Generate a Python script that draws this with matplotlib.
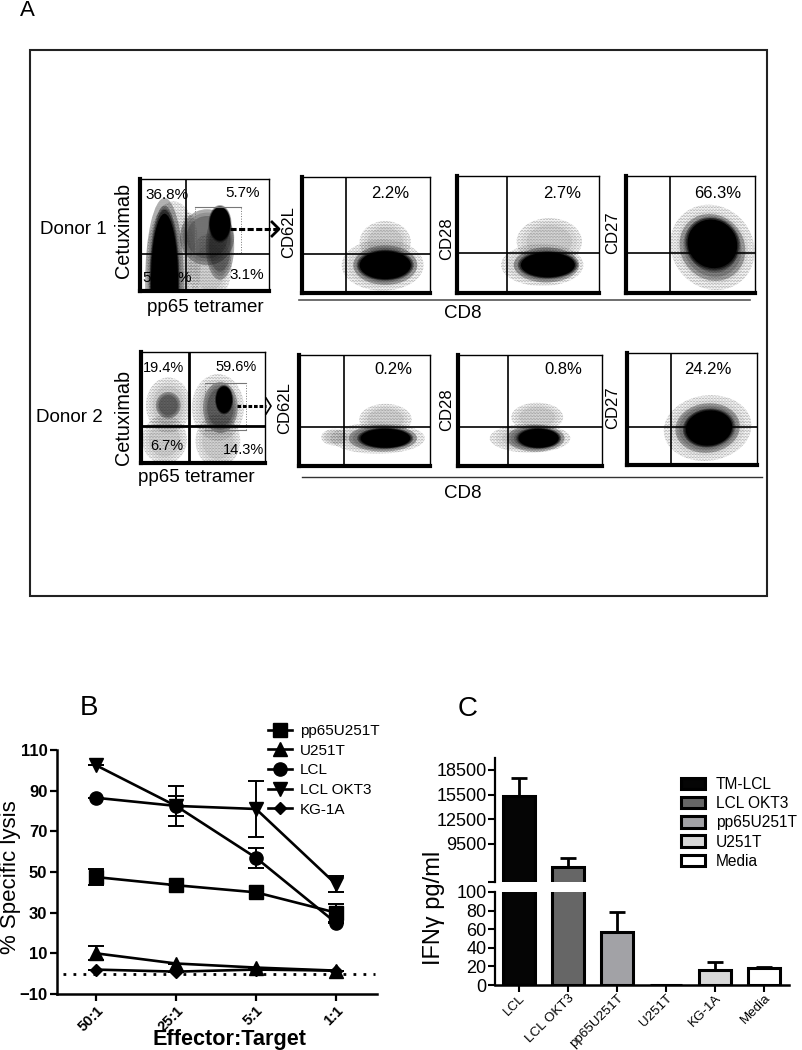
import matplotlib
matplotlib.use('Agg')
from matplotlib import pyplot as plt
from matplotlib.patches import Ellipse, Rectangle
from matplotlib.lines import Line2D
from matplotlib.transforms import ScaledTranslation

plt.rcParams['font.family'] = ['Liberation Sans', 'DejaVu Sans']
plt.rcParams['hatch.linewidth'] = 0.3

W = 802
H = 1050

# ---------------- panel B values ----------------
ratios = ['50:1', '25:1', '5:1', '1:1']
pp65_lysis = [47.5, 43.5, 40, 30]
pp65_err = [4, 0, 0, 4.5]
u251_lysis = [10, 5, 3, 1.5]
u251_err = [3.5, 0, 0, 0]
lcl_lysis = [86.5, 82.5, 57, 25]
lcl_err = [0, 5, 5, 0]
okt3_lysis = [102.5, 82.5, 81, 44]
okt3_err = [0, 10, 14, 4]
kg1a_lysis = [2, 1, 2, 1.5]
kg1a_err = [0, 0, 0, 0]

# ---------------- panel C values ----------------
targets = ['LCL', 'LCL OKT3', 'pp65U251T', 'U251T', 'KG-1A', 'Media']
ifn = [15300, 6700, 57, 0, 16, 18]
ifn_err = [2200, 1100, 21, 0, 9, 1]
ifn_colors = ['#050505', '#666666', '#a2a2a6', '#d0d0d0', '#d8d8d8', '#ffffff']
legend_c_names = ['TM-LCL', 'LCL OKT3', 'pp65U251T', 'U251T', 'Media']
legend_c_colors = ['#050505', '#666666', '#a2a2a6', '#d8d8d8', '#ffffff']

# ---------------- panel A: gates and clouds, in % of each plot ----------------
# clouds: level, x, y, width, height, angle
d1_tet_gate = (36, 33)
d1_tet_clouds = [('sparse', 54, 21, 34, 60, 0), ('sparse', 38, 50, 12, 40, 0), ('mid', 52, 48, 42, 50, 0), ('mid', 62, 40, 22, 60, 0),
                 ('core', 62, 60, 16, 30, 0),
                 ('sparse', 26, 25, 42, 110, 0), ('mid', 19, 8, 30, 150, 0), ('core', 19, 8, 21, 122, 0)]
d1_62_gate = (34, 34)
d1_62_clouds = [('sparse', 65, 44, 40, 36, 0), ('sparse', 63, 24, 64, 44, 0), ('mid', 65, 24, 50, 34, 0), ('core', 65, 24, 40, 24, 0)]
d1_28_gate = (35, 34)
d1_28_clouds = [('sparse', 65, 44, 46, 40, 0), ('sparse', 60, 24, 58, 36, 0), ('mid', 63, 24, 46, 30, 0), ('core', 64, 24, 38, 21, 0)]
d1_27_gate = (34, 34)
d1_27_clouds = [('sparse', 67, 39, 64, 74, 20), ('mid', 67, 39, 50, 58, 20), ('core', 67, 42, 38, 42, 20)]
d2_tet_gate = (39, 33)
d2_tet_clouds = [('sparse', 19, 21, 36, 44, 0), ('sparse', 22, 52, 36, 50, 0), ('mid', 22, 52, 20, 24, 0),
                 ('sparse', 62, 20, 36, 48, 0), ('sparse', 62, 50, 42, 60, 0), ('mid', 64, 50, 28, 46, 0), ('core', 67, 57, 13, 24, 0)]
d2_62_gate = (34, 35)
d2_62_clouds = [('sparse', 27, 26, 20, 15, 0), ('sparse', 66, 42, 40, 28, 0), ('sparse', 60, 25, 72, 28, 0), ('mid', 64, 25, 52, 24, 0), ('core', 66, 25, 38, 17, 0)]
d2_28_gate = (35, 35)
d2_28_clouds = [('sparse', 55, 44, 36, 26, 0), ('sparse', 50, 25, 56, 26, 0), ('mid', 54, 25, 40, 24, 0), ('core', 56, 25, 28, 17, 0)]
d2_27_gate = (34, 34)
d2_27_clouds = [('sparse', 62, 33, 68, 58, 15), ('mid', 62, 33, 50, 44, 15), ('core', 63, 33, 36, 31, 15)]


def px_axes(l, t, r, b):
    return fig.add_axes([l / W, 1 - b / H, (r - l) / W, (b - t) / H])


def flow_panel(box, gate, clouds, gate_lw=1.2):
    ax = px_axes(*box)
    ax.set_xlim(0, 100)
    ax.set_ylim(0, 100)
    ax.set_xticks([])
    ax.set_yticks([])
    for side in ['top', 'right']:
        ax.spines[side].set_linewidth(1.0)
    for side in ['left', 'bottom']:
        ax.spines[side].set_linewidth(3.0)
    # stacked rings so the edge of a cloud fades out instead of stopping
    for level, x, y, w, h, ang in clouds:
        if level == 'core':
            for s, c in [(1.12, '#00000050'), (1.06, '#00000080'), (1.0, '#000000')]:
                ax.add_patch(Ellipse((x, y), w * s, h * s, angle=ang, fc=c, ec='none'))
        elif level == 'mid':
            for s, c in [(1.0, '#00000018'), (0.88, '#00000028'), (0.76, '#00000040')]:
                ax.add_patch(Ellipse((x, y), w * s, h * s, angle=ang, fc=c, ec='none'))
            ax.add_patch(Ellipse((x, y), w, h, angle=ang, fc='none', ec='#222222', lw=0, hatch='.' * 16))
        else:
            for s, c in [(1.0, '#00000008'), (0.85, '#0000000e'), (0.7, '#00000014')]:
                ax.add_patch(Ellipse((x, y), w * s, h * s, angle=ang, fc=c, ec='none'))
            ax.add_patch(Ellipse((x, y), w, h, angle=ang, fc='none', ec='#777777', lw=0, hatch='.' * 11))
    ax.axvline(gate[0], color='black', lw=gate_lw)
    ax.axhline(gate[1], color='black', lw=gate_lw)
    return ax


fig = plt.figure(figsize=(W / 100, H / 100), dpi=100)

# overlay in picture pixels for frame, labels and arrows
ov = fig.add_axes([0, 0, 1, 1], zorder=5)
ov.set_xlim(0, W)
ov.set_ylim(H, 0)
ov.axis('off')
ov.patch.set_alpha(0)

ov.add_patch(Rectangle((30, 50), 737, 546, fc='none', ec='#222222', lw=1.5))
ov.text(27, 10, 'A', fontsize=16, ha='center', va='center')
ov.text(89, 708, 'B', fontsize=20, ha='center', va='center')
ov.text(468, 709, 'C', fontsize=20, ha='center', va='center')

a = flow_panel((140, 179, 269, 291), d1_tet_gate, d1_tet_clouds)
a.add_patch(Rectangle((43, 34), 35, 41, fc='none', ec='#777777', lw=0.7, ls=':'))
a.plot([43, 78], [75, 75], color='#777777', lw=0.8)
flow_panel((302, 177, 430, 293), d1_62_gate, d1_62_clouds)
flow_panel((457, 176, 599, 293), d1_28_gate, d1_28_clouds)
flow_panel((626, 176, 755, 293), d1_27_gate, d1_27_clouds)
a = flow_panel((141, 352, 265, 463), d2_tet_gate, d2_tet_clouds, gate_lw=2.0)
a.add_patch(Rectangle((52, 30), 33, 42, fc='none', ec='#777777', lw=0.7, ls=':'))
a.plot([52, 85], [72, 72], color='#777777', lw=0.8)
a.plot([52, 85], [30, 30], color='#777777', lw=0.8)
flow_panel((299, 355, 430, 466), d2_62_gate, d2_62_clouds)
flow_panel((458, 355, 602, 466), d2_28_gate, d2_28_clouds)
flow_panel((627, 353, 757, 465), d2_27_gate, d2_27_clouds)

# texts of panel A
ov.text(73, 230, 'Donor 1', fontsize=13.5, ha='center', va='center')
ov.text(69, 417, 'Donor 2', fontsize=13.5, ha='center', va='center')
for y in [230, 417]:
    ov.text(123, y, 'Cetuximab', fontsize=14.3, rotation=90, ha='center', va='center')
ov.text(205, 308, 'pp65 tetramer', fontsize=13.5, ha='center', va='center')
ov.text(196, 478, 'pp65 tetramer', fontsize=13.5, ha='center', va='center')
ov.text(463, 313, 'CD8', fontsize=13.5, ha='center', va='center')
ov.text(463, 493, 'CD8', fontsize=13.5, ha='center', va='center')
ov.plot([299, 750], [300, 300], color='#555555', lw=1.2)
ov.plot([302, 762], [477, 477], color='#333333', lw=1.0)

narrow = ['Liberation Sans Narrow', 'Liberation Sans']
for x, y, s in [(289, 232, 'CD62L'), (447, 239, 'CD28'), (613, 233, 'CD27'),
                (285, 408, 'CD62L'), (447, 410, 'CD28'), (613, 408, 'CD27')]:
    ov.text(x, y, s, fontsize=12, family=narrow, rotation=90, ha='center', va='center')

for x, y, s in [(167, 195, '36.8%'), (243, 193, '5.7%'), (247, 275, '3.1%'), (147, 278, '5'), (184, 278, '%')]:
    ov.text(x, y, s, fontsize=11, ha='center', va='center')
for x, y, s in [(163, 368, '19.4%'), (236, 367, '59.6%'), (167, 446, '6.7%'), (243, 450, '14.3%')]:
    ov.text(x, y, s, fontsize=10.5, ha='center', va='center')
for x, y, s in [(390, 194, '2.2%'), (562, 193, '2.7%'), (718, 193, '66.3%'),
                (393, 369, '0.2%'), (563, 369, '0.8%'), (708, 369, '24.2%')]:
    ov.text(x, y, s, fontsize=12, ha='center', va='center')

# gate arrows
ov.plot([230, 278], [229, 229], color='black', lw=2.2, ls=(0, (2, 0.8)))
ov.plot([272, 279, 272], [222, 229, 236], color='black', lw=2.0)
ov.plot([237, 266], [406, 406], color='black', lw=2.2, ls=(0, (1.2, 0.6)))
ov.plot([266, 271, 266], [398, 406, 414], color='black', lw=1.2)

# ---------------- panel B ----------------
ax = px_axes(57, 750, 377, 994)
ax.set_xlim(-0.4875, 3.5125)
ax.set_ylim(-10, 110)
xs = range(len(ratios))
series = [('pp65U251T', pp65_lysis, pp65_err, 's', 9.5),
          ('U251T', u251_lysis, u251_err, '^', 9.5),
          ('LCL', lcl_lysis, lcl_err, 'o', 9.5),
          ('LCL OKT3', okt3_lysis, okt3_err, 'v', 9.5),
          ('KG-1A', kg1a_lysis, kg1a_err, 'D', 6)]
handles = []
for name, vals, errs, mk, ms in series:
    ax.errorbar(xs, vals, yerr=errs, color='black', lw=1.9, marker=mk, ms=ms, capsize=6, capthick=1.4, elinewidth=1.4, clip_on=False)
    handles.append(Line2D([0], [0], color='black', lw=1.9, marker=mk, ms=ms, label=name))
ax.axhline(0, xmin=0.02, xmax=0.995, color='black', lw=2, ls=(0, (1, 2.6)))
ax.set_xticks(list(xs))
ax.set_xticklabels(ratios, rotation=45, ha='right', rotation_mode='anchor', fontsize=10.5, fontweight='bold')
shift = ScaledTranslation(-4 / 72, 0, fig.dpi_scale_trans)
for lab in ax.get_xticklabels():
    lab.set_transform(lab.get_transform() + shift)
ax.set_yticks([-10, 10, 30, 50, 70, 90, 110])
ax.tick_params(axis='y', labelsize=12, width=1.6, length=5, pad=2)
ax.tick_params(axis='x', width=1.6, length=5, pad=2)
for lab in ax.get_yticklabels():
    lab.set_fontweight('bold')
for side in ['top', 'right']:
    ax.spines[side].set_visible(False)
for side in ['left', 'bottom']:
    ax.spines[side].set_linewidth(1.8)
ax.patch.set_alpha(0)
ov.text(11, 877, '% Specific lysis', fontsize=16, rotation=90, ha='center', va='center')
ov.text(230, 1040, 'Effector:Target', fontsize=15.6, fontweight='bold', ha='center', va='center')
fig.legend(handles=handles, loc='upper left', bbox_to_anchor=(268 / W, 1 - 724 / H), frameon=False, fontsize=11,
           handlelength=1.6, handletextpad=0.5, labelspacing=0.37, borderpad=0, borderaxespad=0)

# ---------------- panel C ----------------
xb = range(len(targets))
top = px_axes(495, 758, 789, 882)
low = px_axes(495, 892, 789, 985)
for axc in [top, low]:
    axc.bar(xb, ifn, width=0.66, color=ifn_colors, edgecolor='black', linewidth=2.2)
    axc.errorbar(xb, ifn, yerr=[[0] * len(ifn), ifn_err], fmt='none', ecolor='black', elinewidth=2, capsize=5.8, capthick=2)
    axc.set_xlim(-0.49, 5.51)
    axc.spines['top'].set_visible(False)
    axc.spines['right'].set_visible(False)
    axc.spines['left'].set_linewidth(1.6)
    axc.tick_params(axis='y', labelsize=13, width=1.5, length=5, pad=1)
    axc.patch.set_alpha(0)
top.set_ylim(4866, 19960)
top.set_yticks([4866, 9500, 12500, 15500, 18500])
top.set_yticklabels(['', '9500', '12500', '15500', '18500'])
top.spines['bottom'].set_visible(False)
top.set_xticks([])
low.set_ylim(0, 100)
low.set_yticks([0, 20, 40, 60, 80, 100])
low.spines['bottom'].set_linewidth(1.8)
low.set_xticks(list(xb))
low.set_xticklabels(targets, rotation=45, ha='right', rotation_mode='anchor', fontsize=9.6)
shift_c = ScaledTranslation(7 / 72, 4 / 72, fig.dpi_scale_trans)
for lab in low.get_xticklabels():
    lab.set_transform(lab.get_transform() + shift_c)
low.tick_params(axis='x', width=1.5, length=5, pad=0)
ov.text(434, 908, 'IFNγ pg/ml', fontsize=17, rotation=90, ha='center', va='center')
handles_c = [Rectangle((0, 0), 1, 1, fc=c, ec='black', lw=2.2, label=n) for n, c in zip(legend_c_names, legend_c_colors)]
fig.legend(handles=handles_c, loc='upper left', bbox_to_anchor=(681 / W, 1 - 777 / H), frameon=False, fontsize=11.2,
           handlelength=1.55, handleheight=0.75, handletextpad=0.7, labelspacing=0.27, borderpad=0, borderaxespad=0)

fig.savefig('out.png', dpi=100)
